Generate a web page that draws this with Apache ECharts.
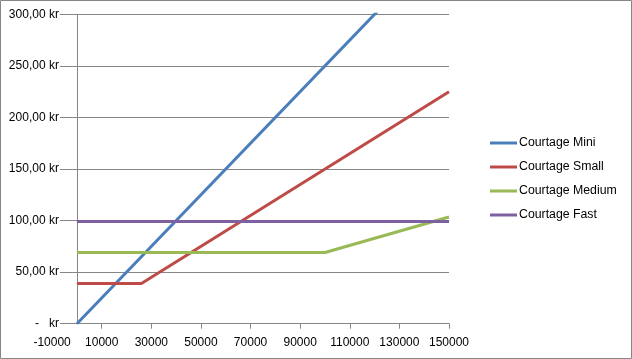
<!DOCTYPE html>
<html>
<head>
<meta charset="utf-8">
<script src="https://cdn.jsdelivr.net/npm/echarts@6/dist/echarts.min.js"></script>
<style>html,body{margin:0;padding:0;background:#fff}#c{width:632px;height:359px}</style>
</head>
<body>
<div id="c"></div>
<script>
// Data (Avanza-style brokerage classes)
var seriesNames = ['Courtage Mini', 'Courtage Small', 'Courtage Medium', 'Courtage Fast'];
var mini   = [[0, 0], [150000, 375]];
var small  = [[0, 39], [26000, 39], [150000, 225]];
var medium = [[0, 69], [100000, 69], [150000, 103.5]];
var fast   = [[0, 99], [150000, 99]];
var xTicks = { min: -10000, max: 150000, interval: 20000 };
var yTicks = { min: 0, max: 300, interval: 50 };
var colors = ['#4a7ebb', '#be4b48', '#98b954', '#7d60a0'];

var font = 'Liberation Sans';
var gridLeft = 52.1, gridRight = 449;
var chart = echarts.init(document.getElementById('c'));
var dataSets = [mini, small, medium, fast];
// pixel distance from grid left edge (x = min) to x = 0, where the value axis crosses
var zeroShift = (0 - xTicks.min) / (xTicks.max - xTicks.min) * (gridRight - gridLeft);
chart.setOption({
  animation: false,
  color: colors,
  textStyle: { fontFamily: font },
  graphic: [{
    type: 'rect', shape: { x: 0.5, y: 0.5, width: 631, height: 358 },
    style: { fill: 'none', stroke: '#868686', lineWidth: 1 }, z: 100
  }],
  grid: { left: gridLeft, right: 632 - gridRight, top: 14.3, bottom: 35.3, containLabel: false, outerBoundsMode: 'none' },
  legend: {
    orient: 'vertical', left: 490, top: 136, padding: 0,
    itemWidth: 27, itemHeight: 3, itemGap: 10, icon: 'rect',
    textStyle: { fontSize: 12.3, color: '#000', fontFamily: font, lineHeight: 14, padding: [0, 0, 0, -3] },
    data: seriesNames
  },
  xAxis: {
    type: 'value', min: xTicks.min, max: xTicks.max, interval: xTicks.interval,
    axisLine: { show: true, onZero: true, lineStyle: { color: '#868686', width: 1 } },
    axisTick: { show: true, length: 5, lineStyle: { color: '#868686' } },
    axisLabel: { fontSize: 12, color: '#000', fontFamily: font, margin: 13, showMinLabel: true, showMaxLabel: true,
      formatter: function (v) { return String(v); } },
    splitLine: { show: false }
  },
  yAxis: {
    type: 'value', min: yTicks.min, max: yTicks.max, interval: yTicks.interval,
    offset: -zeroShift,
    axisLine: { show: true, onZero: false, lineStyle: { color: '#868686', width: 1 } },
    axisTick: { show: false },
    axisLabel: {
      fontSize: 12, color: '#000', fontFamily: font, margin: 17,
      backgroundColor: '#fff', padding: [1, 1, 1, 0],
      formatter: function (v) { return v === 0 ? '-   kr' : v.toFixed(2).replace('.', ',') + ' kr'; }
    },
    splitLine: { show: true, lineStyle: { color: '#868686', width: 1 } }
  },
  series: dataSets.map(function (d, i) {
    return {
      name: seriesNames[i], type: 'line', data: d, symbol: 'none', clip: true,
      lineStyle: { width: 3, color: colors[i] }, itemStyle: { color: colors[i] }
    };
  })
});
</script>
</body>
</html>
